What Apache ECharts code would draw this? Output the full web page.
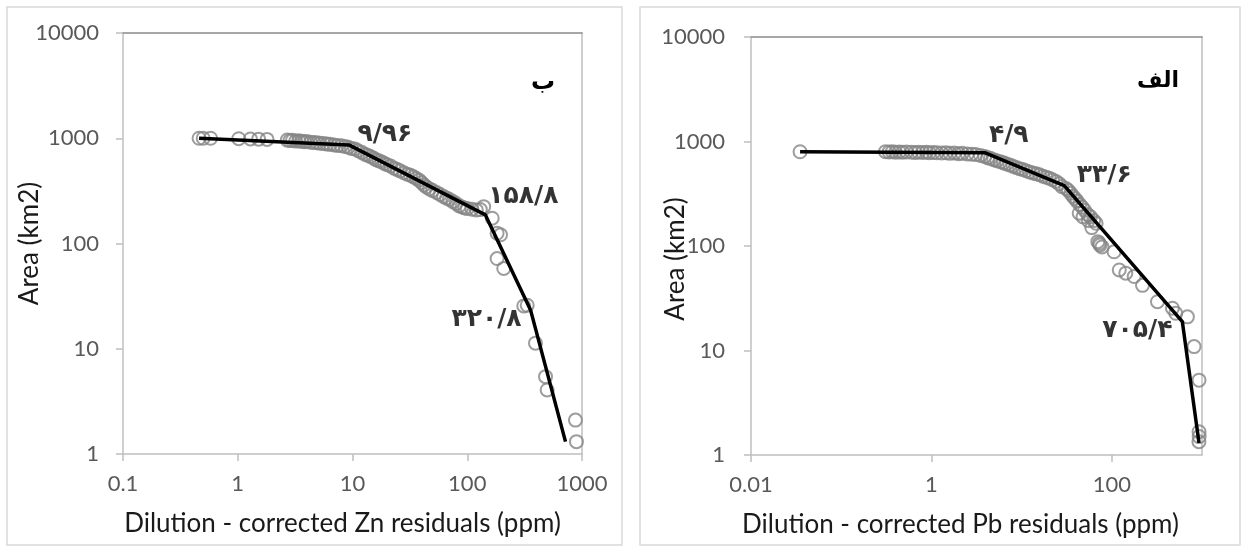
<!DOCTYPE html>
<html>
<head>
<meta charset="utf-8">
<script src="https://cdn.jsdelivr.net/npm/echarts@6/dist/echarts.min.js"></script>
<style>html,body{margin:0;padding:0;background:#fff}#c{width:1243px;height:547px}</style>
</head>
<body>
<div id="c"></div>
<script>
// ---------- data (left panel: Zn) ----------
const znPointsX = [0.46,0.50,0.58,1.02,1.29,1.52,1.80,
  2.7,2.85,3.0,3.2,3.4,3.6,3.8,4.0,4.3,4.6,4.9,5.2,5.6,6.0,6.4,6.9,7.4,8.0,8.6,9.2,9.8,
  10.5,11.2,12,12.8,13.5,14.3,15.2,16,17,18,19,20,21.5,23,24.5,26,28,30,32,34,36,38,40,42,44,47,50,54,58,62,66,70,75,80,85,90,95,100,110,120,130,
  139,165,182,195,182,208,311,333,393,481,497,877,895];
const znPointsY = [1000,1000,1000,990,985,980,975,
  960,950,955,940,945,935,925,930,915,910,905,895,890,880,875,865,855,850,835,820,800,
  790,760,735,705,690,670,650,625,610,595,575,560,545,520,505,490,470,455,445,430,415,400,380,360,345,330,318,305,292,280,270,262,250,240,228,222,218,215,212,208,210,
  224,174,125,121,72,58,25.5,25.9,11.3,5.43,4.06,2.1,1.31];
const znLineX = [0.46, 9.3, 144, 356, 718];
const znLineY = [1000, 865, 187, 23.4, 1.31];
const znBreakLabels = ['۹/۹۶', '۱۵۸/۸', '۳۲۰/۸'];
const znBreakX = [9.3, 144, 356];
const znBreakY = [865, 187, 23.4];
const znPanelTag = 'ب';
const znXTickValues = [0.1, 1, 10, 100, 1000];
const znXTickLabels = ['0.1', '1', '10', '100', '1000'];
const znXTitle = 'Dilution - corrected Zn residuals (ppm)';

// ---------- data (right panel: Pb) ----------
const pbPointsX = [0.035,
  0.31,0.34,0.37,0.40,0.44,0.48,0.53,0.60,0.66,0.72,0.80,0.88,0.95,1.05,1.15,1.3,1.45,1.6,1.8,2.0,2.2,2.5,2.8,3.1,3.5,3.9,
  4.2,4.5,4.9,5.3,5.8,6.3,6.8,7.4,8.0,8.7,9.5,10.3,11.2,12.2,13.3,14.5,15.8,17.2,18.7,20.3,22,24,26,28,
  31,33,35,37,39,41,44,47,50,54,58,63,67,
  43.5,48,55,60,70,72.6,74,78,106,121,143,177,219,321,470,512,689,817,927,927,930,925];
const pbPointsY = [798,
  800,795,800,790,795,790,795,790,785,790,785,790,780,785,780,775,780,770,775,765,770,760,755,750,735,720,
  700,690,670,655,640,625,610,595,580,565,550,540,525,510,500,490,480,465,455,445,430,415,395,370,
  355,340,320,300,285,270,250,235,220,200,190,175,165,
  206,190,175,150,110,106,102,98,88,59,55,51,42,29.3,25.4,22.7,21,10.9,5.2,1.67,1.5,1.34];
const pbLineX = [0.035, 3.9, 29.7, 605, 927];
const pbLineY = [798, 781, 379, 18.9, 1.3];
const pbBreakLabels = ['۴/۹', '۳۳/۶', '۷۰۵/۴'];
const pbBreakX = [3.9, 29.7, 605];
const pbBreakY = [781, 379, 18.9];
const pbPanelTag = 'الف';
const pbXTickValues = [0.01, 1, 100];
const pbXTickLabels = ['0.01', '1', '100'];
const pbXTitle = 'Dilution - corrected Pb residuals (ppm)';

// ---------- shared ----------
const yTickValues = [1, 10, 100, 1000, 10000];
const yTickLabels = ['1', '10', '100', '1000', '10000'];
const yTitle = 'Area (km2)';

// ---------- build ----------
const zip = (a, b) => a.map((v, i) => [v, b[i]]);
const tickFmt = (vals, labs) => v => {
  for (let i = 0; i < vals.length; i++) if (Math.abs(Math.log10(v) - Math.log10(vals[i])) < 1e-6) return labs[i];
  return '';
};
const AXIS_GRAY = '#bfbfbf';
const TICK_FONT = {fontFamily: 'Lato', fontSize: 22, color: '#595959'};
const TITLE_FONT = {fontFamily: 'Lato', fontSize: 26, color: '#1a1a1a'};

function xAxisDef(grid, min, max, vals, labs, title, pad) {
  return {
    type: 'log', logBase: 10, gridIndex: grid, min: min, max: max,
    axisLine: {show: true, lineStyle: {color: AXIS_GRAY, width: 1.5}},
    axisTick: {show: true, length: 7, lineStyle: {color: AXIS_GRAY, width: 1.5}, customValues: vals},
    axisLabel: Object.assign({margin: 19, customValues: vals, formatter: tickFmt(vals, labs)}, TICK_FONT),
    splitLine: {show: false}, minorTick: {show: false},
    name: title, nameLocation: 'middle', nameGap: 57, nameMoveOverlap: false,
    nameTextStyle: Object.assign({padding: pad}, TITLE_FONT)
  };
}
function topAxisDef(grid, min, max) {
  return {type: 'log', gridIndex: grid, min: min, max: max, position: 'top',
    axisLine: {show: true, lineStyle: {color: '#8a8a8a', width: 1.5}},
    axisTick: {show: false}, axisLabel: {show: false}, splitLine: {show: false}};
}
function yAxisDef(grid, margin, gap, pad) {
  return {
    type: 'log', logBase: 10, gridIndex: grid, min: 1, max: 10000,
    axisLine: {show: true, lineStyle: {color: AXIS_GRAY, width: 1.5}},
    axisTick: {show: true, length: 7, lineStyle: {color: AXIS_GRAY, width: 1.5}, customValues: yTickValues},
    axisLabel: Object.assign({margin: margin, customValues: yTickValues, formatter: tickFmt(yTickValues, yTickLabels)}, TICK_FONT),
    splitLine: {show: false}, minorTick: {show: false},
    name: yTitle, nameLocation: 'middle', nameGap: gap, nameRotate: 90, nameMoveOverlap: false,
    nameTextStyle: Object.assign({padding: pad}, TITLE_FONT)
  };
}
function rightAxisDef(grid) {
  return {type: 'log', gridIndex: grid, min: 1, max: 10000, position: 'right',
    axisLine: {show: true, lineStyle: {color: AXIS_GRAY, width: 1.5}},
    axisTick: {show: false}, axisLabel: {show: false}, splitLine: {show: false}};
}
const scatterStyle = {color: 'rgba(0,0,0,0)', borderColor: '#858585', borderWidth: 2};
const labelFont = {fontFamily: 'DejaVu Sans', fontWeight: 'bold', fontSize: 25, color: '#000'};

function labelSeries(xi, yi, xs, ys, labs, offsets) {
  return {
    type: 'scatter', xAxisIndex: xi, yAxisIndex: yi, symbolSize: 0, silent: true, z: 5,
    data: xs.map((x, i) => ({value: [x, ys[i]], label: {show: true, formatter: labs[i], position: 'inside', offset: offsets[i]}})),
    label: labelFont
  };
}

const option = {
  animation: false,
  backgroundColor: '#fff',
  grid: [
    {left: 123, top: 33, width: 459, height: 421, containLabel: false},
    {left: 751, top: 37, width: 451, height: 418, containLabel: false}
  ],
  xAxis: [
    xAxisDef(0, 0.1, 1000, znXTickValues, znXTickLabels, znXTitle, [0, 20, 0, 0]),
    xAxisDef(1, 0.01, 1000, pbXTickValues, pbXTickLabels, pbXTitle, [0, 32, 0, 0]),
    topAxisDef(0, 0.1, 1000),
    topAxisDef(1, 0.01, 1000)
  ],
  yAxis: [yAxisDef(0, 24, 80, [0, 0, 0, 0]), yAxisDef(1, 26, 62, [0, 26, 0, 0]), rightAxisDef(0), rightAxisDef(1)],
  graphic: [
    {type: 'rect', shape: {x: 7, y: 7, width: 615, height: 538}, style: {fill: 'none', stroke: '#d9d9d9', lineWidth: 1.5}, silent: true, z: -10},
    {type: 'rect', shape: {x: 640, y: 7, width: 600, height: 538}, style: {fill: 'none', stroke: '#d9d9d9', lineWidth: 1.5}, silent: true, z: -10},
    {type: 'text', x: 543, y: 83, style: Object.assign({text: znPanelTag, align: 'center', verticalAlign: 'middle'}, labelFont, {fontSize: 24})},
    {type: 'text', x: 1158, y: 81, style: Object.assign({text: pbPanelTag, align: 'center', verticalAlign: 'middle'}, labelFont, {fontSize: 22})}
  ],
  series: [
    {type: 'scatter', xAxisIndex: 0, yAxisIndex: 0, symbol: 'circle', symbolSize: 13, itemStyle: scatterStyle, data: zip(znPointsX, znPointsY), z: 2},
    {type: 'line', xAxisIndex: 0, yAxisIndex: 0, symbol: 'none', lineStyle: {color: '#000', width: 3.5}, data: zip(znLineX, znLineY), z: 3},
    labelSeries(0, 0, znBreakX, znBreakY, znBreakLabels, [[36, -10], [38, -18], [-44, 10]]),
    {type: 'scatter', xAxisIndex: 1, yAxisIndex: 1, symbol: 'circle', symbolSize: 13, itemStyle: scatterStyle, data: zip(pbPointsX, pbPointsY), z: 2},
    {type: 'line', xAxisIndex: 1, yAxisIndex: 1, symbol: 'none', lineStyle: {color: '#000', width: 3.5}, data: zip(pbLineX, pbLineY), z: 3},
    labelSeries(1, 1, pbBreakX, pbBreakY, pbBreakLabels, [[24, -17], [40, -10], [-45, 9]])
  ]
};
const chart = echarts.init(document.getElementById('c'), null, {renderer: 'canvas'});
chart.setOption(option);
</script>
</body>
</html>
